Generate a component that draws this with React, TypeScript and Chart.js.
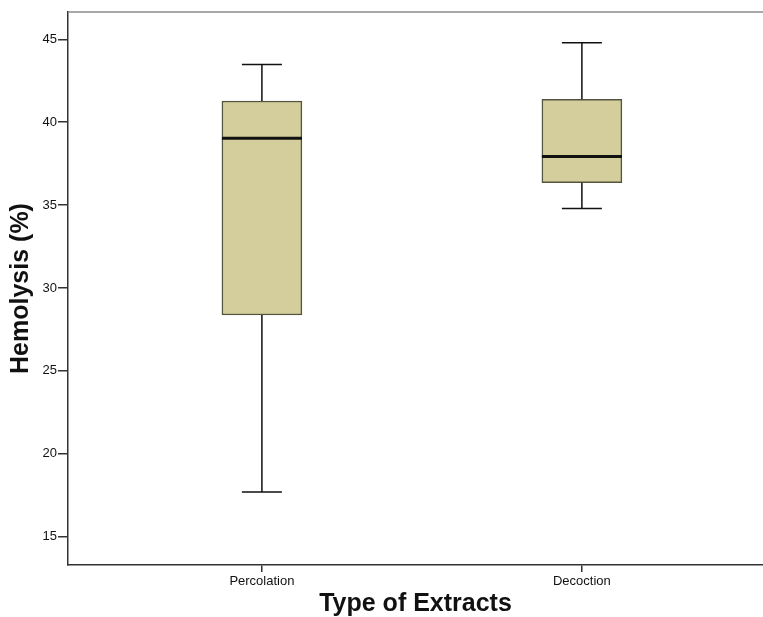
import React, { useEffect, useRef } from "react";
import { Chart, registerables } from "chart.js";

Chart.register(...registerables);

const categories = ["Percolation", "Decoction"];
const whiskerLow = [17.7, 34.8];
const q1 = [28.37, 36.35];
const median = [39.03, 37.94];
const q3 = [41.28, 41.38];
const whiskerHigh = [43.49, 44.8];
const yTicks = [15, 20, 25, 30, 35, 40, 45];

const boxPlugin = {
  id: "boxExtras",
  afterDatasetsDraw(chart: any) {
    const { ctx, scales, chartArea } = chart;
    const xs = scales.x;
    const ys = scales.y;
    ctx.save();
    ctx.strokeStyle = "#8a8a8a";
    ctx.lineWidth = 1.5;
    ctx.beginPath();
    ctx.moveTo(chartArea.left, chartArea.top);
    ctx.lineTo(chartArea.right, chartArea.top);
    ctx.stroke();
    categories.forEach((_, i) => {
      const cx = xs.getPixelForValue(i + 1);
      const yLo = ys.getPixelForValue(whiskerLow[i]);
      const yQ1 = ys.getPixelForValue(q1[i]);
      const yQ3 = ys.getPixelForValue(q3[i]);
      const yHi = ys.getPixelForValue(whiskerHigh[i]);
      const yMed = ys.getPixelForValue(median[i]);
      ctx.strokeStyle = "#111";
      ctx.lineWidth = 1.5;
      ctx.beginPath();
      ctx.moveTo(cx, yQ3);
      ctx.lineTo(cx, yHi);
      ctx.moveTo(cx - 20, yHi);
      ctx.lineTo(cx + 20, yHi);
      ctx.moveTo(cx, yQ1);
      ctx.lineTo(cx, yLo);
      ctx.moveTo(cx - 20, yLo);
      ctx.lineTo(cx + 20, yLo);
      ctx.stroke();
      ctx.lineWidth = 3;
      ctx.beginPath();
      ctx.moveTo(cx - 40, yMed);
      ctx.lineTo(cx + 40, yMed);
      ctx.stroke();
    });
    ctx.restore();
  },
};

export default function App() {
  const ref = useRef<HTMLCanvasElement>(null);
  useEffect(() => {
    document.body.style.margin = "0";
    const chart = new Chart(ref.current as HTMLCanvasElement, {
      type: "bar",
      data: {
        datasets: [
          {
            data: categories.map((_, i) => ({ x: i + 1, y: [q1[i], q3[i]] })) as any,
            backgroundColor: "#d3ce9b",
            borderColor: "#55543f",
            borderWidth: 1.5,
            borderSkipped: false,
            barThickness: 80,
          },
        ],
      },
      options: {
        animation: false,
        responsive: false,
        layout: { padding: { top: 12, right: 0, left: 0, bottom: 0 } },
        plugins: { legend: { display: false }, tooltip: { enabled: false } },
        scales: {
          x: {
            type: "linear",
            offset: false,
            min: 0.394,
            max: 2.566,
            afterBuildTicks: (s: any) => {
              s.ticks = categories.map((_, i) => ({ value: i + 1 }));
            },
            afterFit: (s: any) => {
              s.height = 52;
            },
            ticks: {
              callback: (v: any) => categories[Number(v) - 1] ?? "",
              font: { family: "Arial, 'Liberation Sans'", size: 13 },
              color: "#111",
              padding: 2,
              maxRotation: 0,
            },
            grid: {
              display: true,
              offset: false,
              drawOnChartArea: false,
              drawTicks: true,
              tickLength: 7,
              color: "#333",
              lineWidth: 1.5,
            },
            border: { display: true, color: "#333", width: 1.5 },
            title: {
              display: true,
              text: "Type of Extracts",
              font: { family: "Arial, 'Liberation Sans'", size: 25, weight: "bold", lineHeight: 1 },
              color: "#111",
              padding: { top: 0, bottom: 0 },
            },
          },
          y: {
            type: "linear",
            min: 13.29,
            max: 46.65,
            afterBuildTicks: (s: any) => {
              s.ticks = yTicks.map((v) => ({ value: v }));
            },
            afterFit: (s: any) => {
              s.width = 68;
            },
            ticks: {
              font: { family: "Arial, 'Liberation Sans'", size: 13 },
              color: "#111",
              padding: 1,
            },
            grid: {
              display: true,
              drawOnChartArea: false,
              drawTicks: true,
              tickLength: 10,
              color: "#333",
              lineWidth: 1.5,
            },
            border: { display: true, color: "#333", width: 1.5 },
            title: {
              display: true,
              text: "Hemolysis (%)",
              font: { family: "Arial, 'Liberation Sans'", size: 25, weight: "bold", lineHeight: 1.2 },
              color: "#111",
              padding: { top: 6, bottom: 0 },
            },
          },
        },
      },
      plugins: [boxPlugin],
    } as any);
    return () => chart.destroy();
  }, []);
  return <canvas ref={ref} width={763} height={617} style={{ display: "block" }} />;
}
